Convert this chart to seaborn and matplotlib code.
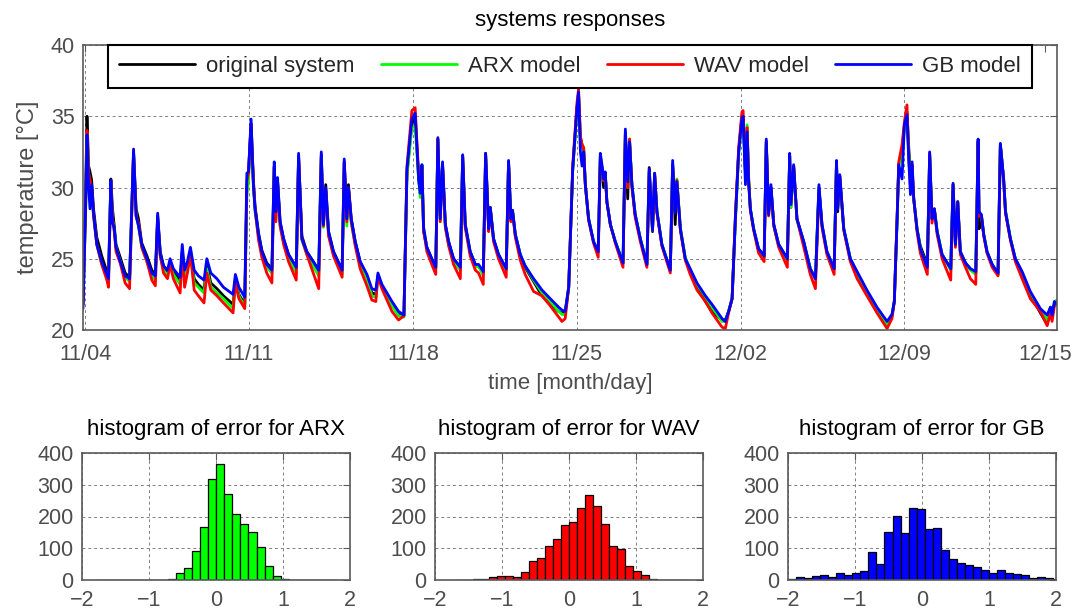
import numpy as np
import pandas as pd
import matplotlib
matplotlib.use("Agg")
import matplotlib.pyplot as plt
import seaborn as sns

# ---------------------------------------------------------------------------
# Temperature responses: time in days from 11/04 00:00, values in °C
# ---------------------------------------------------------------------------
days = [
    -0.09, 0.02, 0.08, 0.15, 0.21, 0.28, 0.36, 0.50, 0.71, 0.93, 1.00, 1.10, 1.17, 1.24, 1.32, 1.50,
    1.71, 1.90, 2.07, 2.18, 2.28, 2.42, 2.64, 2.85, 3.00, 3.10, 3.21, 3.35, 3.52, 3.63, 3.77, 4.06,
    4.15, 4.25, 4.37, 4.50, 4.66, 4.84, 5.08, 5.20, 5.37, 5.63, 5.91, 6.32, 6.42, 6.57, 6.82,
    6.91, 6.98, 7.09, 7.19, 7.26, 7.41, 7.55, 7.76, 7.98, 8.08, 8.15, 8.22, 8.33, 8.48, 8.69, 9.02,
    9.12, 9.26, 9.47, 9.98, 10.09, 10.18, 10.28, 10.40, 10.61, 10.98, 11.07, 11.18, 11.25, 11.37,
    11.54, 11.75, 12.04, 12.25, 12.42, 12.51, 12.68, 13.11, 13.39, 13.62, 13.75, 13.96, 14.10,
    14.25, 14.32, 14.39, 14.46, 14.60, 14.81, 14.98, 15.07, 15.17, 15.27, 15.39, 15.53, 15.74, 16.03,
    16.13, 16.24, 16.45, 16.67, 16.81, 17.01, 17.11, 17.24, 17.31, 17.45, 17.66, 17.99, 18.09, 18.19,
    18.26, 18.38, 18.59, 18.80, 19.16, 19.52, 19.87, 20.23, 20.37, 20.51, 20.66, 20.83, 21.01,
    21.08, 21.16, 21.23, 21.30, 21.37, 21.51, 21.72, 21.92, 22.01, 22.08, 22.15, 22.22, 22.29, 22.44,
    22.65, 22.98, 23.08, 23.18, 23.26, 23.36, 23.50, 23.72, 24.00, 24.10, 24.24, 24.33, 24.43, 24.64,
    25.00, 25.10, 25.21, 25.28, 25.43, 25.64, 25.85, 26.14, 26.50, 26.78, 27.21, 27.35, 27.49, 27.64,
    27.78, 27.92, 28.06,
    28.11, 28.21, 28.28, 28.35, 28.42, 28.56, 28.77, 29.01, 29.10, 29.20, 29.30, 29.42, 29.63, 30.00,
    30.10, 30.15, 30.27, 30.41, 30.70, 30.98, 31.20, 31.35, 31.48, 31.69, 32.00, 32.10, 32.15, 32.24,
    32.41, 32.69, 32.98, 33.40, 33.83, 34.26, 34.47, 34.57, 34.69, 34.76, 34.90, 35.00, 35.11,
    35.19, 35.26, 35.33, 35.40, 35.54, 35.68, 35.98, 36.08, 36.18, 36.28, 36.40, 36.61, 36.98, 37.08,
    37.18, 37.28, 37.39, 37.61, 37.82, 38.05, 38.15, 38.19, 38.29, 38.39, 38.53, 38.75, 39.00, 39.10,
    39.24, 39.32, 39.53, 39.74, 40.03, 40.38, 40.81, 41.10, 41.24, 41.31, 41.41, 41.52,
]

original = [
    21.8, 29.5, 35.0, 31.5, 31.1, 30.5, 28.5, 26.5, 25.2, 24.1, 23.8, 30.6, 28.5, 27.4, 26.0, 25.1,
    24.0, 23.7, 32.5, 28.5, 27.8, 26.1, 25.2, 24.2, 23.9, 28.0, 25.5, 24.5, 24.0, 24.8, 24.1, 23.4,
    25.5, 23.8, 24.5, 25.5, 23.6, 23.2, 22.8, 24.6, 23.3, 22.9, 22.4, 21.8, 23.5, 22.5, 21.8,
    30.0, 31.0, 34.5, 30.5, 28.7, 26.8, 25.6, 24.7, 24.3, 31.5, 28.5, 30.5, 27.6, 26.4, 25.3, 24.4,
    32.2, 26.6, 25.5, 24.2, 32.3, 27.6, 30.2, 26.9, 25.5, 24.2, 31.8, 27.8, 30.2, 27.8,
    26.2, 24.8, 23.8, 22.6, 22.5, 23.8, 23.1, 21.9, 21.2, 21.0, 31.0, 34.5, 34.8,
    30.8, 29.5, 31.5, 26.9, 25.8, 25.0, 24.4, 33.4, 28.0, 31.6, 27.4, 26.2, 25.0, 24.4,
    32.2, 27.4, 25.5, 24.6, 24.5, 24.0, 32.4, 27.1, 28.6, 26.4, 25.3, 24.3, 31.8, 27.8,
    28.4, 26.7, 25.3, 24.4, 23.4, 22.4, 21.8, 21.3, 21.2, 21.3, 23.0, 31.2, 35.5,
    36.6, 33.5, 33.0, 32.6, 30.2, 27.8, 26.2, 25.5, 32.2, 31.4, 30.0, 31.0, 29.0, 27.4,
    26.2, 24.7, 33.8, 29.2, 33.2, 30.2, 28.1, 26.4, 24.6, 31.4, 26.9, 30.9, 28.3, 26.0,
    24.2, 31.6, 27.4, 30.5, 27.1, 25.0, 24.2, 23.1, 22.0, 21.3, 20.7, 20.7, 21.3, 22.2,
    27.8, 32.5, 35.0,
    35.0, 31.0, 34.2, 30.5, 28.5, 27.1, 25.7, 25.2, 33.2, 28.3, 30.0, 27.4, 26.0, 25.0,
    32.2, 28.6, 31.5, 27.8, 26.2, 24.3, 23.6, 30.0, 27.4, 25.5, 24.3, 31.8, 28.3, 30.8,
    27.1, 25.0, 24.0, 22.6, 21.3, 20.4, 21.0, 22.0, 27.8, 31.6, 32.5, 34.3, 35.3,
    32.7, 31.0, 31.2, 29.2, 27.1, 25.9, 24.6, 32.3, 27.8, 28.5, 26.9, 25.3, 24.3, 30.2,
    26.0, 29.0, 25.5, 24.7, 24.3, 24.0, 33.2, 27.1, 28.0, 26.7, 25.5, 24.6, 23.9, 33.0,
    30.6, 28.3, 26.4, 25.0, 24.0, 22.5, 21.2, 20.4, 21.6, 21.0, 21.9, 22.0,
]

arx = [
    21.8, 28.0, 33.8, 31.0, 30.0, 29.5, 28.0, 26.0, 24.6, 23.8, 23.5, 30.3, 27.8, 27.0, 25.8, 24.8,
    23.7, 23.4, 32.3, 28.0, 27.3, 25.8, 24.8, 23.8, 23.5, 27.5, 25.2, 24.2, 23.8, 24.7, 23.9, 23.2,
    25.2, 23.6, 24.3, 25.3, 23.3, 23.0, 22.6, 24.3, 23.0, 22.6, 22.2, 21.5, 23.4, 22.4, 21.6,
    29.5, 30.5, 34.0, 30.0, 28.3, 26.5, 25.3, 24.4, 24.0, 31.3, 27.8, 30.3, 27.3, 26.2, 25.0, 24.0,
    32.0, 26.3, 25.3, 23.8, 32.0, 27.2, 29.6, 26.7, 25.3, 23.9, 31.5, 27.3, 29.8, 27.5,
    26.0, 24.6, 23.6, 22.4, 22.3, 23.8, 23.0, 21.7, 21.0, 20.9, 30.8, 34.2, 34.3,
    30.5, 29.3, 31.6, 27.2, 25.7, 24.9, 24.3, 33.3, 27.6, 31.5, 27.2, 26.0, 24.8, 24.2,
    32.0, 27.2, 25.4, 24.4, 24.5, 23.8, 32.2, 27.0, 28.5, 26.3, 25.2, 24.2, 31.7, 27.8,
    28.3, 26.6, 25.3, 24.5, 23.5, 22.6, 22.0, 21.3, 21.1, 21.05, 23.0, 31.2, 35.3,
    36.5, 33.3, 33.0, 32.8, 30.2, 27.8, 26.2, 25.5, 31.8, 31.3, 30.5, 31.0, 29.0, 27.4,
    26.2, 24.7, 33.7, 30.0, 33.4, 30.2, 28.1, 26.4, 24.6, 31.1, 27.0, 31.0, 28.3, 26.0,
    24.2, 31.5, 28.5, 30.6, 27.2, 25.1, 24.2, 23.2, 22.3, 21.6, 20.6, 20.6, 21.3, 22.2,
    27.6, 32.3, 34.8,
    34.9, 31.0, 34.4, 30.5, 28.5, 27.1, 25.6, 25.1, 33.1, 28.3, 30.0, 27.3, 25.9, 24.9,
    32.1, 28.6, 31.4, 27.7, 26.1, 24.3, 23.6, 29.9, 27.3, 25.5, 24.3, 31.8, 28.5, 30.7,
    27.1, 25.0, 24.0, 22.7, 21.5, 20.4, 21.0, 22.0, 27.8, 31.6, 32.0, 34.2, 35.1,
    32.3, 30.5, 31.0, 29.2, 27.1, 25.7, 24.4, 32.3, 27.8, 28.5, 26.9, 25.3, 24.2, 30.2,
    26.0, 29.0, 25.5, 24.6, 24.2, 23.9, 33.2, 28.0, 28.1, 26.7, 25.5, 24.5, 23.9, 33.0,
    30.6, 28.4, 26.4, 25.0, 24.0, 22.6, 21.4, 20.7, 21.6, 21.0, 22.0, 22.1,
]

wav = [
    21.8, 28.5, 34.0, 31.0, 30.5, 30.0, 28.0, 26.0, 24.6, 23.5, 23.0, 30.4, 27.8, 27.0, 25.5, 24.7,
    23.3, 22.9, 32.4, 28.0, 27.5, 25.8, 24.8, 23.5, 23.1, 27.8, 25.2, 24.0, 23.6, 24.6, 23.6, 22.6,
    25.5, 23.0, 24.0, 25.3, 22.8, 22.4, 21.9, 24.0, 22.8, 22.4, 21.9, 21.2, 23.3, 22.2, 21.5,
    30.5, 31.0, 34.4, 30.2, 28.5, 26.3, 25.1, 24.0, 23.3, 31.4, 27.6, 30.4, 27.3, 26.0, 24.8, 23.5,
    32.2, 26.4, 25.3, 22.9, 32.2, 27.3, 29.8, 26.6, 25.2, 23.7, 31.8, 27.6, 30.0, 27.6,
    25.9, 24.3, 23.1, 22.1, 22.0, 23.8, 22.9, 21.3, 20.7, 21.0, 31.5, 35.4, 35.6,
    30.9, 29.8, 31.4, 27.0, 25.5, 24.6, 23.9, 33.4, 27.6, 31.6, 27.2, 25.9, 24.6, 23.6,
    32.2, 27.2, 25.2, 24.2, 24.0, 23.2, 32.3, 26.9, 28.5, 26.2, 25.0, 23.7, 31.8, 27.6,
    28.3, 26.5, 24.9, 23.9, 22.7, 22.4, 21.7, 20.9, 20.6, 20.8, 23.0, 31.5, 35.9,
    36.9, 33.6, 33.0, 32.8, 30.2, 27.7, 26.1, 25.1, 32.0, 31.4, 30.5, 31.0, 29.0, 27.4,
    26.1, 24.4, 33.8, 30.0, 33.4, 30.0, 27.9, 26.2, 24.4, 31.1, 27.0, 31.0, 28.2, 25.9,
    24.0, 31.6, 28.5, 30.5, 27.0, 24.9, 23.9, 22.8, 22.0, 21.2, 20.2, 20.1, 21.2, 22.2,
    28.0, 32.8, 35.3,
    35.4, 31.2, 34.2, 30.4, 28.4, 27.0, 25.4, 24.8, 33.2, 28.0, 30.0, 27.3, 25.8, 24.4,
    32.2, 28.9, 31.5, 27.8, 25.8, 23.9, 22.9, 29.8, 27.2, 25.3, 23.9, 31.8, 28.6, 30.8,
    27.0, 24.8, 23.6, 22.4, 21.2, 20.1, 20.8, 22.0, 28.0, 31.8, 33.0, 34.6, 35.8,
    32.0, 30.0, 31.6, 29.2, 26.9, 25.4, 23.9, 32.4, 27.5, 28.5, 26.7, 25.0, 23.5, 30.2,
    25.8, 29.0, 25.3, 24.4, 23.6, 23.2, 33.3, 28.0, 28.0, 26.6, 25.4, 24.4, 23.8, 33.0,
    30.5, 28.2, 26.3, 24.8, 23.6, 22.2, 21.3, 20.3, 21.2, 20.6, 21.7, 21.8,
]

gb = [
    21.5, 28.5, 33.7, 30.0, 28.5, 30.2, 28.2, 26.0, 24.8, 23.9, 23.6, 30.5, 27.5, 27.2, 25.8, 24.8,
    23.8, 23.6, 32.7, 28.0, 27.3, 26.0, 25.0, 24.0, 23.8, 28.2, 25.3, 24.5, 24.2, 25.0, 24.3, 23.7,
    26.0, 24.2, 24.8, 25.8, 24.2, 23.8, 23.5, 25.0, 24.0, 23.6, 23.0, 22.5, 23.9, 23.0, 22.3,
    31.0, 31.1, 34.8, 30.2, 28.5, 26.7, 25.5, 24.6, 24.2, 31.8, 28.3, 30.7, 27.6, 26.4, 25.3, 24.4,
    32.4, 26.4, 25.5, 24.2, 32.5, 27.4, 30.0, 26.9, 25.5, 24.2, 32.0, 27.8, 30.0, 27.8,
    26.2, 24.8, 23.9, 22.9, 22.8, 24.0, 23.2, 22.0, 21.3, 21.05, 31.3, 34.8, 35.2,
    30.5, 29.6, 31.6, 27.2, 25.8, 25.0, 24.4, 33.5, 27.8, 31.8, 27.4, 26.2, 25.0, 24.4,
    32.3, 27.4, 25.5, 24.6, 24.6, 24.1, 32.4, 27.1, 28.6, 26.4, 25.3, 24.3, 31.9, 27.8,
    28.4, 26.7, 25.3, 24.5, 23.6, 22.8, 22.2, 21.6, 21.4, 21.3, 23.0, 31.3, 35.5,
    36.7, 32.5, 31.5, 32.5, 30.2, 27.8, 26.2, 25.5, 32.4, 31.6, 30.6, 31.1, 29.0, 27.4,
    26.2, 24.7, 34.1, 30.4, 33.2, 30.2, 28.1, 26.4, 24.6, 31.3, 27.0, 31.0, 28.3, 26.0,
    24.2, 31.9, 28.2, 30.4, 27.1, 25.0, 24.3, 23.3, 22.4, 21.8, 20.8, 20.6, 21.3, 22.2,
    27.8, 32.5, 34.8,
    35.0, 30.2, 33.9, 30.2, 28.5, 27.1, 25.7, 25.2, 33.4, 28.1, 30.2, 27.4, 26.0, 25.0,
    32.4, 28.8, 31.6, 27.8, 26.2, 24.3, 23.6, 30.2, 27.4, 25.5, 24.3, 31.9, 28.5, 30.9,
    27.1, 25.0, 24.1, 22.8, 21.6, 20.6, 21.1, 22.0, 27.8, 31.6, 30.6, 34.4, 35.1,
    31.8, 29.5, 31.8, 29.2, 27.1, 25.7, 24.4, 32.5, 27.8, 28.5, 26.9, 25.3, 24.3, 30.3,
    26.0, 29.0, 25.5, 24.7, 24.3, 24.1, 33.4, 28.3, 28.1, 26.7, 25.5, 24.6, 24.0, 33.1,
    30.6, 28.3, 26.4, 25.0, 24.1, 22.7, 21.5, 21.05, 21.6, 21.05, 22.0, 21.8,
]

series_names = ["original system", "ARX model", "WAV model", "GB model"]
series_colors = ["#000000", "#00ff00", "#ff0000", "#0000ff"]

tick_labels = ["11/04", "11/11", "11/18", "11/25", "12/02", "12/09", "12/15"]
tick_days = [0, 7, 14, 21, 28, 35, 41]

# ---------------------------------------------------------------------------
# Error histograms: bin centres and counts
# ---------------------------------------------------------------------------
arx_err_centers = [-1.735, -1.615, -1.495, -1.255, -1.135, -1.015, -0.775, -0.655, -0.535,
                   -0.415, -0.295, -0.175, -0.055, 0.065, 0.185, 0.305, 0.425, 0.545, 0.665,
                   0.785, 0.905, 1.025, 1.145, 1.265, 1.505, 1.625, 1.745]
arx_err_counts = [1, 1, 1, 1, 1, 1, 1, 3, 23,
                  39, 92, 166, 318, 364, 271, 207, 175, 151, 105,
                  44, 14, 3, 1, 1, 1, 1, 1]

wav_err_centers = [-1.62, -1.50, -1.38, -1.26, -1.14, -1.02, -0.90, -0.78, -0.66, -0.54,
                   -0.42, -0.30, -0.18, -0.06, 0.06, 0.18, 0.30, 0.42, 0.54, 0.66,
                   0.78, 0.90, 1.02, 1.14, 1.26, 1.38, 1.50, 1.62, 1.74]
wav_err_counts = [1, 1, 2, 3, 8, 12, 13, 8, 25, 59,
                  69, 108, 128, 174, 182, 227, 269, 234, 176, 106,
                  98, 44, 29, 15, 2, 1, 1, 1, 1]

gb_err_centers = [-1.94, -1.82, -1.70, -1.58, -1.46, -1.34, -1.22, -1.10, -0.98, -0.86,
                  -0.74, -0.62, -0.50, -0.38, -0.26, -0.14, -0.02, 0.10, 0.22, 0.34,
                  0.46, 0.58, 0.70, 0.82, 0.94, 1.06, 1.18, 1.30, 1.42, 1.54,
                  1.66, 1.78, 1.90, 2.02]
gb_err_counts = [4, 9, 7, 14, 16, 9, 21, 15, 22, 29,
                 87, 49, 151, 203, 147, 226, 224, 161, 165, 93,
                 65, 55, 46, 40, 31, 23, 32, 21, 19, 17,
                 5, 8, 5, 2]

hist_bin_width = 0.12

# ---------------------------------------------------------------------------
# Styling
# ---------------------------------------------------------------------------
sns.set_theme(style="white")
plt.rcParams["font.family"] = ["Liberation Sans", "DejaVu Sans"]
plt.rcParams["axes.unicode_minus"] = True

TICK_COLOR = "#4d4d4d"
SPINE_COLOR = "#5a5a5a"
GRID_KW = dict(linestyle=(0, (3, 3)), color="#808080", linewidth=0.7)

fig = plt.figure(figsize=(10.88, 6.14), dpi=100)


def style_axes(ax, labelsize, xpad=6):
    ax.set_axisbelow(True)
    ax.grid(True, **GRID_KW)
    for sp in ax.spines.values():
        sp.set_color(SPINE_COLOR)
        sp.set_linewidth(1.2)
        sp.set_visible(True)
    ax.tick_params(direction="in", length=5, width=0.8, colors=SPINE_COLOR,
                   labelcolor=TICK_COLOR, labelsize=labelsize, top=True, right=True,
                   pad=6)
    ax.tick_params(axis="x", pad=xpad)


# ---- main time-series panel ----
ax = fig.add_axes([83 / 1088, 1 - 330 / 614, (1057 - 83) / 1088, 285 / 614])
base = pd.Timestamp("2013-11-04")
times = base + pd.to_timedelta(np.asarray(days), unit="D")

for name, color, values in zip(series_names, series_colors, [original, arx, wav, gb]):
    sns.lineplot(x=times, y=values, color=color, label=name, linewidth=2.0,
                 estimator=None, sort=False, ax=ax)

ax.set_ylim(20, 40)
ax.set_yticks([20, 25, 30, 35, 40])
ax.set_xlim(base + pd.Timedelta(days=-0.09), base + pd.Timedelta(days=41.52))
ax.set_xticks([base + pd.Timedelta(days=d) for d in tick_days])
ax.set_xticklabels(tick_labels)
style_axes(ax, 15.5, xpad=10)
ax.get_xgridlines()[-1].set_visible(False)

ax.set_xlabel("time [month/day]", fontsize=16, color=TICK_COLOR, labelpad=6)
ax.set_ylabel("temperature [°C]", fontsize=17, color=TICK_COLOR, labelpad=8)
ax.set_title("systems responses", fontsize=16, color="black", pad=14)

leg = ax.legend(loc="upper center", bbox_to_anchor=(0.5, 1.0), ncol=4, fontsize=16,
                frameon=True, fancybox=False, framealpha=1, edgecolor="black",
                handlelength=3.4, handletextpad=0.5, columnspacing=1.2,
                borderaxespad=0.0, borderpad=0.5)
leg.get_frame().set_linewidth(1.5)
for line in leg.get_lines():
    line.set_linewidth(2.0)

# ---- error histograms ----
hist_specs = [
    ("histogram of error for ARX", arx_err_centers, arx_err_counts, "#00ff00", 82),
    ("histogram of error for WAV", wav_err_centers, wav_err_counts, "#ff0000", 435),
    ("histogram of error for GB", gb_err_centers, gb_err_counts, "#0000ff", 788),
]
for title, centers, counts, color, left_px in hist_specs:
    hax = fig.add_axes([left_px / 1088, 1 - 580 / 614, 268 / 1088, 127 / 614])
    lo = min(centers) - hist_bin_width / 2
    hi = max(centers) + hist_bin_width / 2
    sns.histplot(x=centers, weights=counts, binwidth=hist_bin_width, binrange=(lo, hi),
                 color=color, edgecolor="black", linewidth=0.9, alpha=1.0, ax=hax)
    hax.set_xlim(-2, 2)
    hax.set_ylim(0, 400)
    hax.set_xticks([-2, -1, 0, 1, 2])
    hax.set_yticks([0, 100, 200, 300, 400])
    hax.set_xlabel("")
    hax.set_ylabel("")
    style_axes(hax, 15.5, xpad=7)
    hax.set_title(title, fontsize=16, color="black", pad=13)

fig.savefig("out.png", dpi=100)
